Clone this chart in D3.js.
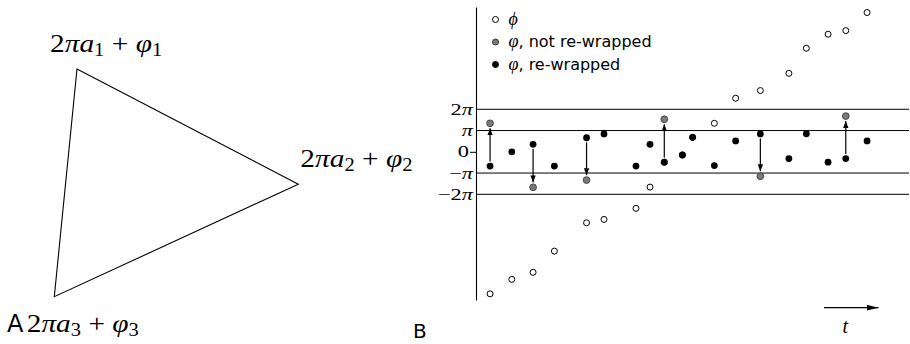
<!DOCTYPE html>
<html>
<head>
<meta charset="utf-8">
<script src="https://cdn.jsdelivr.net/npm/d3@7"></script>
<style>
  html, body { margin: 0; padding: 0; background: #fff; }
  svg { display: block; }
  .math { font-family: "Liberation Serif", "DejaVu Serif", serif; }
  .sans { font-family: "DejaVu Sans", "Noto Sans", sans-serif; }
</style>
</head>
<body>
<svg id="fig" width="910" height="344"></svg>
<script>
// ---------- Panel A: triangle with the phase sum at each vertex ----------
const triX = [0.093, 1.0, 0.0];          // vertex positions in unit space
const triY = [0.0, 0.506, 1.0];
const vertexIndex = ["1", "2", "3"];

// ---------- Panel B: unwrapped vs. wrapped phase over time ----------
const tValues = [0.66, 1.68, 2.68, 3.68, 5.19, 6.01, 7.51, 8.17, 8.84, 9.69,
                 10.17, 11.19, 12.19, 13.35, 14.69, 15.51, 16.53, 17.36, 18.36];
// phases in units of pi
const phiUnwrapped = [-6.68, -6.00, -5.67, -4.67, -3.34, -3.18, -2.66, -1.66, -0.49, -0.15,
                      0.68, 1.34, 2.52, 2.88, 3.69, 4.87, 5.53, 5.70, 6.55];
const phiWrapped = [-0.67, 0.00, 0.35, -0.67, 0.66, 0.84, -0.67, 0.35, -0.49, -0.15,
                    0.68, -0.65, 0.51, 0.84, -0.32, 0.85, -0.49, -0.32, 0.51];
const jumpIndex = [0, 2, 4, 8, 13, 17];
const phiNotRewrapped = [1.34, -1.67, -1.33, 1.53, -1.15, 1.68];

const gridValues = [2, 1, -1, -2];
const tickValues = [2, 1, 0, -1, -2];
const tickLabels = ["2π", "π", "0", "−π", "−2π"];
const legendLabels = ["ϕ", "φ, not re-wrapped", "φ, re-wrapped"];

const svg = d3.select("#fig");
const defs = svg.append("defs");

// ===== Panel A =====
const ax = d3.scaleLinear().domain([0, 1]).range([54.3, 298.3]);
const ay = d3.scaleLinear().domain([0, 1]).range([69, 296.7]);
const verts = triX.map((v, i) => [ax(v), ay(triY[i])]);

svg.append("path")
  .attr("d", d3.line()(verts) + "Z")
  .attr("fill", "none")
  .attr("stroke", "#000")
  .attr("stroke-width", 1.1);

const labelOffsets = [[-27, -17.3], [2, -17.6], [-27.6, 35]];
function mathLabel(sel, idx) {
  sel.append("tspan").attr("font-style", "normal").text("2");
  sel.append("tspan").attr("font-style", "italic").text("πa");
  sel.append("tspan").attr("font-style", "normal").attr("font-size", "70%").attr("dy", 4).text(idx);
  sel.append("tspan").attr("font-style", "normal").attr("dy", -4).text(" + ");
  sel.append("tspan").attr("font-style", "italic").text("φ");
  sel.append("tspan").attr("font-style", "normal").attr("font-size", "70%").attr("dy", 4).text(idx);
}
verts.forEach((v, i) => {
  const g = svg.append("g")
    .attr("transform", `translate(${v[0] + labelOffsets[i][0]},${v[1] + labelOffsets[i][1]}) scale(1.13,1)`);
  const t = g.append("text")
    .attr("class", "math")
    .attr("font-size", 26)
    .attr("x", 0)
    .attr("y", 0);
  mathLabel(t, vertexIndex[i]);
});

svg.append("text").attr("class", "sans").attr("font-size", 24)
  .attr("x", 7).attr("y", 331.7).text("A");
svg.append("text").attr("class", "sans").attr("font-size", 20)
  .attr("x", 413).attr("y", 338.3).text("B");

// ===== Panel B =====
const x = d3.scaleLinear().domain([0, 20]).range([476, 902]);
const y = d3.scaleLinear().domain([-6.97, 6.81]).range([300, 7]);
const right = 909;

// horizontal reference lines at ±pi, ±2pi
svg.append("g").selectAll("line").data(gridValues).join("line")
  .attr("x1", x(0)).attr("x2", right)
  .attr("y1", d => y(d)).attr("y2", d => y(d))
  .attr("stroke", "#000").attr("stroke-width", 1);

// vertical axis with pi-multiple labels
const axisG = svg.append("g")
  .attr("transform", `translate(${x(0)},0)`)
  .call(d3.axisLeft(y).tickValues(tickValues).tickSize(6).tickSizeOuter(0).tickPadding(1)
          .tickFormat((d, i) => tickLabels[i]));
axisG.attr("font-family", null);
axisG.select(".domain").attr("stroke", "#000").attr("stroke-width", 1.1);
axisG.selectAll(".tick line").attr("stroke", "#000").attr("display", d => d === 0 ? null : "none");
axisG.selectAll(".tick text")
  .attr("class", "math")
  .attr("font-size", 16)
  .attr("fill", "#000")
  .attr("dy", "0.32em")
  .attr("x", 0)
  .attr("transform", d => `translate(${d === 0 ? -7 : -3},0) scale(1.4,1)`)
  .each(function (d, i) {
    const s = tickLabels[i];
    const el = d3.select(this).text(null);
    for (const ch of s) {
      el.append("tspan").attr("font-style", ch === "π" ? "italic" : "normal").text(ch);
    }
  });

const r = 3.4;

// unwrapped phase (open circles)
svg.append("g").selectAll("circle").data(tValues).join("circle")
  .attr("cx", d => x(d))
  .attr("cy", (d, i) => y(phiUnwrapped[i]))
  .attr("r", r - 0.4)
  .attr("fill", "#fff").attr("stroke", "#000").attr("stroke-width", 1);

// arrowheads
defs.append("marker")
  .attr("id", "head").attr("markerUnits", "userSpaceOnUse")
  .attr("viewBox", "0 0 10 10").attr("refX", 10).attr("refY", 5)
  .attr("markerWidth", 7).attr("markerHeight", 7).attr("orient", "auto")
  .append("path").attr("d", "M0,1.2 L10,5 L0,8.8 Z").attr("fill", "#000");

// arrows from re-wrapped to not re-wrapped values
svg.append("g").selectAll("line").data(jumpIndex).join("line")
  .attr("x1", i => x(tValues[i])).attr("x2", i => x(tValues[i]))
  .attr("y1", (i, k) => {
    const up = phiNotRewrapped[k] > phiWrapped[i];
    return y(phiWrapped[i]) + (up ? -(r + 1.2) : (r + 1.2));
  })
  .attr("y2", (i, k) => {
    const up = phiNotRewrapped[k] > phiWrapped[i];
    return y(phiNotRewrapped[k]) + (up ? (r + 1.5) : -(r + 1.5));
  })
  .attr("stroke", "#000").attr("stroke-width", 1.2)
  .attr("marker-end", "url(#head)");

// not re-wrapped (grey)
svg.append("g").selectAll("circle").data(jumpIndex).join("circle")
  .attr("cx", i => x(tValues[i]))
  .attr("cy", (i, k) => y(phiNotRewrapped[k]))
  .attr("r", r)
  .attr("fill", "#7a7a7a").attr("stroke", "#333").attr("stroke-width", 0.8);

// re-wrapped (black)
svg.append("g").selectAll("circle").data(tValues).join("circle")
  .attr("cx", d => x(d))
  .attr("cy", (d, i) => y(phiWrapped[i]))
  .attr("r", r)
  .attr("fill", "#000");

// legend
const legendStyles = [
  { fill: "#fff", stroke: "#000" },
  { fill: "#7a7a7a", stroke: "#333" },
  { fill: "#000", stroke: "#000" }
];
const lg = svg.append("g").attr("transform", "translate(495.5,19.5)");
legendLabels.forEach((lab, i) => {
  const row = lg.append("g").attr("transform", `translate(0,${i * 22.5})`);
  row.append("circle").attr("r", 3).attr("fill", legendStyles[i].fill)
    .attr("stroke", legendStyles[i].stroke).attr("stroke-width", 1);
  const t = row.append("text").attr("x", 13).attr("y", 5).attr("font-size", 16);
  t.append("tspan").attr("class", "math").attr("font-style", "italic").attr("font-size", 18).text(lab[0]);
  t.append("tspan").attr("class", "sans").text(lab.slice(1));
});

// time direction
defs.append("marker")
  .attr("id", "tHead").attr("markerUnits", "userSpaceOnUse")
  .attr("viewBox", "0 0 12 6").attr("refX", 12).attr("refY", 3)
  .attr("markerWidth", 12).attr("markerHeight", 6).attr("orient", "auto")
  .append("path").attr("d", "M0,0 L12,3 L0,6 Z").attr("fill", "#000");
svg.append("line")
  .attr("x1", 824).attr("x2", 878.5).attr("y1", 307.7).attr("y2", 307.7)
  .attr("stroke", "#000").attr("stroke-width", 1.2)
  .attr("marker-end", "url(#tHead)");
svg.append("text").attr("class", "math").attr("font-style", "italic").attr("font-size", 20)
  .attr("x", 842.5).attr("y", 333.3).text("t");
</script>
</body>
</html>
